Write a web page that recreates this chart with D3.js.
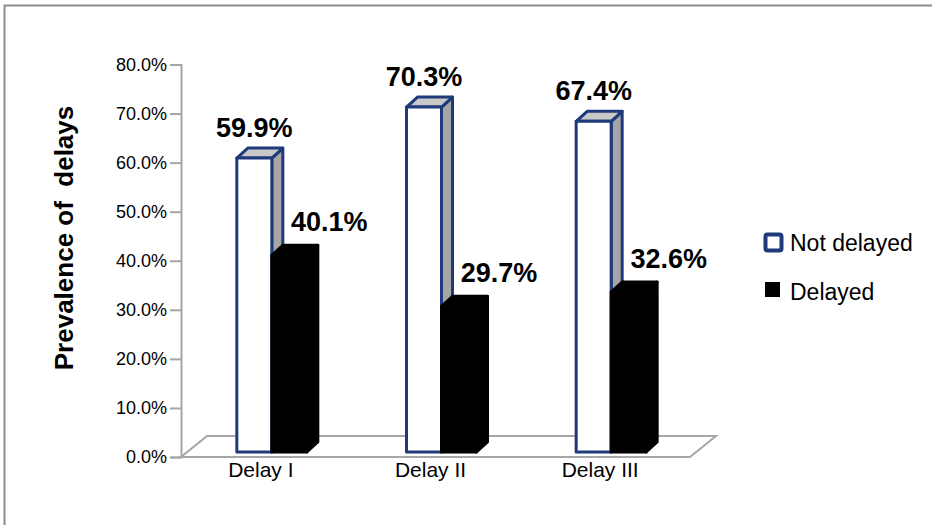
<!DOCTYPE html>
<html>
<head>
<meta charset="utf-8">
<script src="https://cdn.jsdelivr.net/npm/d3@7"></script>
<style>
  body { margin: 0; background: #fff; }
  svg text { font-family: "Liberation Sans", Arial, sans-serif; fill: #000; }
</style>
</head>
<body>
<div id="chart"></div>
<script>
const categories = ["Delay I", "Delay II", "Delay III"]
const notDelayed = [0.599, 0.703, 0.674]
const delayed = [0.401, 0.297, 0.326]
const yTicks = [0, 0.1, 0.2, 0.3, 0.4, 0.5, 0.6, 0.7, 0.8]
const seriesNames = ["Not delayed", "Delayed"]

const width = 932, height = 525
const svg = d3.select("#chart").append("svg").attr("width", width).attr("height", height)

// outer frame (only left and top edges show in the picture)
svg.append("path").attr("d", `M4.5,${height} V5.5 H${width}`)
  .attr("fill", "none").attr("stroke", "#8c8c8c").attr("stroke-width", 2)

const y = d3.scaleLinear().domain([0, 0.8]).range([457, 64.5])
const x = d3.scaleBand().domain(categories).range([181, 690])

const floorDx = 26, floorDy = -21   // depth of the floor
const barDx = 11, barDy = -10       // depth of a bar
const shiftX = 6, shiftY = -5       // bars sit inside the depth
const barW = 35

// floor
const x0 = x.range()[0], x1 = x.range()[1], y0 = y(0)
svg.append("path")
  .attr("d", `M${x0},${y0} L${x1},${y0} L${x1 + floorDx},${y0 + floorDy} L${x0 + floorDx},${y0 + floorDy} Z`)
  .attr("fill", "none").attr("stroke", "#a6a6a6").attr("stroke-width", 2)

// y axis
const yAxis = svg.append("g").attr("transform", `translate(${x0},0)`)
  .call(d3.axisLeft(y).tickValues(yTicks).tickFormat(d3.format(".1%")).tickSize(11).tickPadding(3))
yAxis.select(".domain").attr("stroke", "#a6a6a6").attr("stroke-width", 2)
yAxis.selectAll(".tick line").attr("stroke", "#a6a6a6").attr("stroke-width", 2)
yAxis.selectAll(".tick text").attr("font-size", 18).attr("font-family", "Liberation Sans, Arial, sans-serif").attr("fill", "#000")

// y title
svg.append("text")
  .attr("transform", `translate(73,238) rotate(-90)`)
  .attr("text-anchor", "middle").attr("font-size", 26).attr("font-weight", "bold")
  .attr("xml:space", "preserve")
  .text("Prevalence of  delays")

// x labels
svg.append("g").selectAll("text").data(categories).join("text")
  .attr("x", d => x(d) + x.bandwidth() / 2 - 5)
  .attr("y", 477)
  .attr("text-anchor", "middle").attr("font-size", 21)
  .text(d => d)

// bars
const bars = [
  { values: notDelayed, offset: -barW, front: "#fff", top: "#c8c8c8", side: "#a6a6a6", stroke: "#1f3a7a", labelDx: 0, labelDy: -21 },
  { values: delayed, offset: 0, front: "#000", top: "#000", side: "#000", stroke: "#000", labelDx: 40, labelDy: -24 }
]

bars.forEach(s => {
  const g = svg.append("g")
  categories.forEach((c, i) => {
    const v = s.values[i]
    const left = x(c) + x.bandwidth() / 2 + s.offset + shiftX
    const right = left + barW
    const top = y(v) + shiftY
    const bottom = y(0) + shiftY
    const b = g.append("g")
      .attr("stroke", s.stroke).attr("stroke-width", 3).attr("stroke-linejoin", "round")
    b.append("path")
      .attr("d", `M${right},${top} L${right + barDx},${top + barDy} L${right + barDx},${bottom + barDy} L${right},${bottom} Z`)
      .attr("fill", s.side)
    b.append("path")
      .attr("d", `M${left},${top} L${left + barDx},${top + barDy} L${right + barDx},${top + barDy} L${right},${top} Z`)
      .attr("fill", s.top)
    b.append("rect")
      .attr("x", left).attr("y", top).attr("width", barW).attr("height", bottom - top)
      .attr("fill", s.front)
    svg.append("text")
      .attr("x", (left + right) / 2 + s.labelDx)
      .attr("y", top + s.labelDy)
      .attr("text-anchor", "middle").attr("font-size", 27).attr("font-weight", "bold")
      .text(d3.format(".1%")(v))
  })
})

// legend
const legend = svg.append("g")
legend.append("rect").attr("x", 765.5).attr("y", 234.5).attr("width", 16).attr("height", 16)
  .attr("rx", 2).attr("fill", "#fff").attr("stroke", "#1f3a7a").attr("stroke-width", 4)
legend.append("rect").attr("x", 765).attr("y", 282).attr("width", 15).attr("height", 15).attr("fill", "#000")
legend.selectAll("text").data(seriesNames).join("text")
  .attr("x", 790).attr("y", (d, i) => 251 + i * 49)
  .attr("font-size", 23)
  .text(d => d)
</script>
</body>
</html>
